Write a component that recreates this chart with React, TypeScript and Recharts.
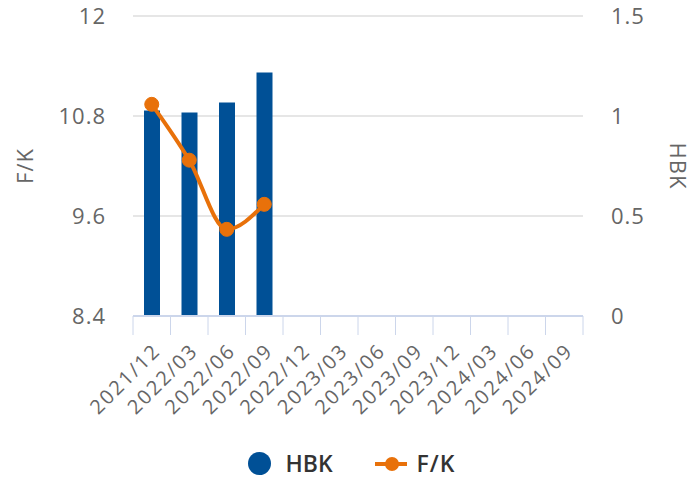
import React from "react";
import {
  ComposedChart,
  Bar,
  Line,
  XAxis,
  YAxis,
  CartesianGrid,
  Legend,
} from "recharts";

const periods = [
  "2021/12", "2022/03", "2022/06", "2022/09", "2022/12", "2023/03",
  "2023/06", "2023/09", "2023/12", "2024/03", "2024/06", "2024/09",
];
const hbkValues: (number | null)[] = [1.027, 1.018, 1.068, 1.218];
const fkValues: (number | null)[] = [10.94, 10.27, 9.44, 9.74];
const fkTicks = [8.4, 9.6, 10.8, 12];
const hbkTicks = [0, 0.5, 1, 1.5];

const CHART_W = 696;
const CHART_H = 479;
const LEFT_W = 133;
const RIGHT_W = 113;
const BAND = (CHART_W - LEFT_W - RIGHT_W) / periods.length;

const BLUE = "#005096";
const ORANGE = "#e8710a";
const AXIS = "#ccd6eb";
const FONT = "'Open Sans', 'Noto Sans', sans-serif";

const data = periods.map((period, i) => ({
  period,
  hbk: hbkValues[i] ?? null,
  fk: fkValues[i] ?? null,
}));

function PeriodTick(props: any) {
  const { x, y, payload, index } = props;
  const isLast = index === periods.length - 1;
  const tx = x + 10;
  const ty = y + 36;
  return (
    <g>
      <line x1={x - BAND / 2} x2={x - BAND / 2} y1={y} y2={y + 19} stroke={AXIS} />
      {isLast && (
        <line x1={x + BAND / 2} x2={x + BAND / 2} y1={y} y2={y + 19} stroke={AXIS} />
      )}
      <text
        x={tx}
        y={ty}
        textAnchor="end"
        fill="#666"
        fontFamily={FONT}
        style={{ fontSize: 20, letterSpacing: "2px" }}
        transform={`rotate(-45 ${tx} ${ty})`}
      >
        {payload.value}
      </text>
    </g>
  );
}

function AxisTitle({ viewBox, text, side }: any) {
  const cx = side === "left" ? viewBox.x + 24 : viewBox.x + 96;
  const cy = viewBox.y + viewBox.height / 2;
  return (
    <text
      x={cx}
      y={cy}
      textAnchor="middle"
      dominantBaseline="central"
      fill="#666"
      fontFamily={FONT}
      style={{ fontSize: 22, letterSpacing: "1px" }}
      transform={`rotate(${side === "left" ? -90 : 90} ${cx} ${cy})`}
    >
      {text}
    </text>
  );
}

function ChartLegend() {
  const textStyle = {
    fontSize: 23,
    lineHeight: "31px",
    fontWeight: 600,
    color: "#333",
    fontFamily: FONT,
    whiteSpace: "nowrap" as const,
  };
  return (
    <div
      style={{
        height: 53,
        width: CHART_W,
        display: "flex",
        justifyContent: "center",
        alignItems: "center",
        paddingTop: 22,
        paddingLeft: 8,
        boxSizing: "border-box",
      }}
    >
      <span
        style={{ width: 23, height: 23, borderRadius: "50%", background: BLUE, display: "inline-block" }}
      />
      <span style={{ ...textStyle, marginLeft: 14 }}>HBK</span>
      <svg width={32} height={16} style={{ marginLeft: 42 }}>
        <line x1={0} x2={32} y1={8} y2={8} stroke={ORANGE} strokeWidth={4} />
        <circle cx={17} cy={8} r={7} fill={ORANGE} />
      </svg>
      <span style={{ ...textStyle, marginLeft: 10, letterSpacing: 1 }}>F/K</span>
    </div>
  );
}

export default function App() {
  return (
    <div style={{ position: "absolute", left: 0, top: 0, background: "#fff" }}>
      <ComposedChart
        width={CHART_W}
        height={CHART_H}
        data={data}
        margin={{ top: 16, right: 0, bottom: 0, left: 0 }}
      >
        <CartesianGrid vertical={false} stroke="#e6e6e6" strokeWidth={2} yAxisId="left" />
        <XAxis
          dataKey="period"
          height={110}
          interval={0}
          tickLine={false}
          tickSize={0}
          tickMargin={0}
          axisLine={{ stroke: AXIS, strokeWidth: 2 }}
          tick={<PeriodTick />}
        />
        <YAxis
          yAxisId="left"
          width={LEFT_W}
          domain={[8.4, 12]}
          ticks={fkTicks}
          axisLine={false}
          tickLine={false}
          tickSize={0}
          tickMargin={27}
          tick={{ fill: "#666", fontSize: 22, fontFamily: FONT, style: { letterSpacing: "1px" } }}
          label={<AxisTitle text="F/K" side="left" />}
        />
        <YAxis
          yAxisId="right"
          orientation="right"
          width={RIGHT_W}
          domain={[0, 1.5]}
          ticks={hbkTicks}
          axisLine={false}
          tickLine={false}
          tickSize={0}
          tickMargin={28}
          tick={{ fill: "#666", fontSize: 22, fontFamily: FONT, textAnchor: "start", style: { letterSpacing: "1px" } }}
          label={<AxisTitle text="HBK" side="right" />}
        />
        <Bar
          yAxisId="right"
          dataKey="hbk"
          name="HBK"
          fill={BLUE}
          barSize={16}
          isAnimationActive={false}
        />
        <Line
          yAxisId="left"
          dataKey="fk"
          name="F/K"
          type="monotone"
          stroke={ORANGE}
          strokeWidth={4}
          dot={{ r: 7, fill: ORANGE, stroke: ORANGE, strokeWidth: 1 }}
          activeDot={false}
          connectNulls={false}
          isAnimationActive={false}
        />
        <Legend verticalAlign="bottom" content={<ChartLegend />} wrapperStyle={{ left: 0, bottom: 0 }} />
      </ComposedChart>
    </div>
  );
}
